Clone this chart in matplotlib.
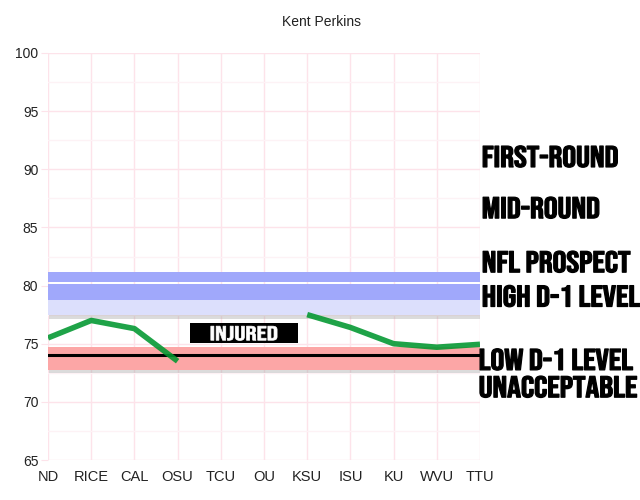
import numpy as np
import matplotlib
matplotlib.use("Agg")
import matplotlib.pyplot as plt
import matplotlib.patheffects as pe
from matplotlib.transforms import Affine2D, blended_transform_factory
from matplotlib.patches import Rectangle

# games and grades (nan = did not play)
games = ["ND", "RICE", "CAL", "OSU", "TCU", "OU", "KSU", "ISU", "KU", "WVU", "TTU"]
grades = [75.5, 77.0, 76.3, 73.5, np.nan, np.nan, 77.5, 76.4, 75.0, 74.7, 74.95]

# grade bands (low, high)
nfl_band = (80.3, 81.2)
high_band = (78.75, 80.15)
high_light_band = (77.45, 78.75)
low_band = (72.75, 74.75)
cutoff = 74.0

# level labels on the right, value = text baseline
levels = ["FIRST-ROUND", "MID-ROUND", "NFL PROSPECT", "HIGH D-1 LEVEL", "LOW D-1 LEVEL", "UNACCEPTABLE"]
level_y = [90.2, 85.8, 81.15, 78.2, 72.75, 70.4]


class Widen(pe.AbstractPathEffect):
    # stretch + embolden glyphs, the poster font on the original is wider/heavier
    def __init__(self, sx, lw=0.8, anchor="left"):
        super().__init__()
        self.sx = sx
        self.lw = lw
        self.anchor = anchor

    def draw_path(self, renderer, gc, tpath, affine, rgbFace=None):
        ext = tpath.get_extents()
        cx = 0 if self.anchor == "left" else (ext.x0 + ext.x1) / 2
        t = Affine2D().translate(-cx, 0).scale(self.sx, 1).translate(cx, 0) + affine
        gc0 = renderer.new_gc()
        gc0.copy_properties(gc)
        gc0.set_linewidth(self.lw)
        gc0.set_foreground(rgbFace)
        gc0.set_joinstyle("round")
        renderer.draw_path(gc0, tpath, t, rgbFace)
        gc0.restore()


plt.rcParams["font.family"] = ["Liberation Sans", "DejaVu Sans"]
poster = ["Bebas Neue", "DejaVu Sans"]

fig = plt.figure(figsize=(6.4, 5), dpi=100)
ax = fig.add_axes([0.075, 0.08, 0.675, 0.814])

x = np.arange(len(games))
shadow = [pe.SimplePatchShadow(offset=(1, -2.5), shadow_rgbFace="#999999", alpha=0.35), pe.Normal()]

ax.axhspan(*nfl_band, color="#a0a8fb", lw=0, zorder=2)
ax.axhspan(*high_light_band, color="#dcdffc", lw=0, path_effects=shadow, zorder=2)
ax.axhspan(*high_band, color="#a0a8fb", lw=0, zorder=2.1)
ax.axhspan(*low_band, color="#fca6a6", lw=0, path_effects=shadow, zorder=2)
ax.axhline(cutoff, color="black", lw=2.2, zorder=3)

ax.plot(x, grades, color="#00972f", lw=4, alpha=0.88, solid_capstyle="butt", zorder=4)

# injured tag
ax.add_patch(Rectangle((3.29, 75.06), 2.5, 1.72, color="black", lw=0, zorder=5))
ax.text(4.54, 75.9, "INJURED", color="white", fontsize=14.5, family=poster,
        ha="center", va="center", zorder=6,
        path_effects=[Widen(1.38, lw=0.5, anchor="center")])

tr = blended_transform_factory(ax.transAxes, ax.transData)
for i, (lab, yv) in enumerate(zip(levels, level_y)):
    x0 = 0.997 if i >= 4 else 1.004
    ax.text(x0, yv, lab, transform=tr, fontsize=21.5, family=poster,
            color="black", ha="left", va="baseline", clip_on=False,
            path_effects=[Widen(1.15, lw=0.9)])

ax.set_xlim(0, len(games) - 1)
ax.set_ylim(65, 100)
ax.set_xticks(x)
ax.set_xticklabels(games)
ax.set_yticks(np.arange(65, 101, 5))
ax.set_yticks(np.arange(67.5, 100, 5), minor=True)
ax.grid(True, which="major", color="#fde3ea", lw=1)
ax.grid(True, which="minor", axis="y", color="#fdf2f5", lw=1)
ax.set_axisbelow(True)
for s in ax.spines.values():
    s.set_visible(False)
ax.tick_params(axis="y", which="major", length=5, color="#fde3ea", pad=2, labelsize=10, labelcolor="#222222")
ax.tick_params(axis="y", which="minor", length=0)
ax.tick_params(axis="x", length=0, pad=7, labelsize=10.5, labelcolor="#222222")

fig.text(0.502, 0.956, "Kent Perkins", ha="center", va="center", fontsize=10, color="#222222")

fig.savefig("out.png", dpi=100)
